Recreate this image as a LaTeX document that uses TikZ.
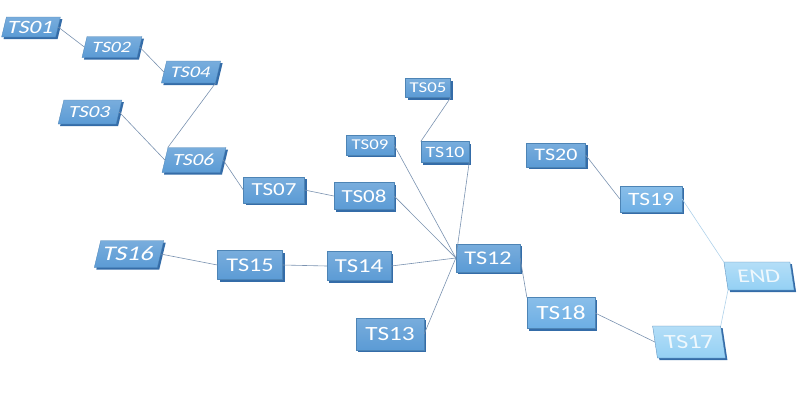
\documentclass[tikz,border=0pt]{standalone}
\usepackage{fontspec}
\newfontfamily\tsfont[FakeStretch=1.25]{Carlito}
\usetikzlibrary{shadows}
\definecolor{tsblue}{RGB}{91,155,213}
\definecolor{tsdark}{RGB}{52,108,168}
\definecolor{tsmid}{RGB}{108,174,228}
\definecolor{tslight}{RGB}{148,208,244}
\definecolor{tsline}{RGB}{122,146,176}
\definecolor{tsfaint}{RGB}{176,210,234}
\begin{document}
\begin{tikzpicture}[x=1pt, y=-1pt, line join=round, line cap=round,
	ts/.style={rectangle, inner sep=0pt, text=white, top color=tsblue!82!white, bottom color=tsblue,
		draw=tsblue!85!black, line width=0.3pt, font=\tsfont\fontsize{#1}{#1}\selectfont,
		general shadow={fill=tsdark, shadow xshift=2pt, shadow yshift=-2pt}},
	tsit/.style={ts=#1, xslant=0.24},
	tsmd/.style={ts=#1, top color=tsmid!80!white, bottom color=tsmid},
	tslt/.style={ts=#1, top color=tslight!70!white, bottom color=tslight, text=white!85!tslight, xslant=-0.15},
	link/.style={draw=tsline, line width=0.6pt}]
	\useasboundingbox (0,0) rectangle (800,407);
	% left branch
	\node[tsit=18.8, minimum width=54, minimum height=20] (ts01) at (31,27) {TS01};
	\node[tsit=15.8, minimum width=55, minimum height=21] (ts02) at (112,47) {TS02};
	\node[tsit=16.2, minimum width=54, minimum height=22] (ts04) at (191,72) {TS04};
	\node[tsit=17, minimum width=58, minimum height=24] (ts03) at (90,112) {TS03};
	\node[tsit=17, minimum width=58, minimum height=25] (ts06) at (194,160) {TS06};
	\node[ts=18.4, minimum width=61, minimum height=26] (ts07) at (274,190) {TS07};
	\node[ts=18.4, minimum width=60, minimum height=27] (ts08) at (364,196) {TS08};
	\node[ts=15, minimum width=48, minimum height=20] (ts09) at (370,145) {TS09};
	\node[ts=15, minimum width=45, minimum height=19] (ts05) at (428,88) {TS05};
	\node[ts=15.8, minimum width=48, minimum height=21] (ts10) at (445,152) {TS10};
	\node[ts=19.4, minimum width=64, minimum height=28] (ts12) at (488,258) {TS12};
	\node[ts=20.2, minimum width=68, minimum height=32] (ts13) at (390,334) {TS13};
	\node[ts=19.8, minimum width=64, minimum height=29] (ts14) at (359,266) {TS14};
	\node[ts=19.4, minimum width=65, minimum height=29] (ts15) at (250,265) {TS15};
	\node[tsit=20.8, minimum width=63, minimum height=27] (ts16) at (129,254) {TS16};
	% right branch
	\node[ts=17.6, minimum width=59, minimum height=24] (ts20) at (556,155) {TS20};
	\node[tsmd=18.8, minimum width=62, minimum height=26] (ts19) at (651,199) {TS19};
	\node[tsmd=20.2, minimum width=68, minimum height=31] (ts18) at (561,313) {TS18};
	\node[tslt=20.2, minimum width=68, minimum height=32] (ts17) at (689,342) {TS17};
	\node[tslt=19.4, minimum width=66, minimum height=28] (tsend) at (759,276) {END};
	% links
	\draw[link] (ts01.east) -- (ts02.west);
	\draw[link] (ts02.east) -- (ts04.west);
	\draw[link] (ts04.south east) -- (ts06.north west);
	\draw[link] (ts03.east) -- (ts06.west);
	\draw[link] (ts06.east) -- (ts07.west);
	\draw[link] (ts07.east) -- (ts08.west);
	\draw[link] (ts05.south east) -- (ts10.north west);
	\foreach \n in {ts08,ts09,ts14,ts13}{\draw[link] (\n.east) -- (ts12.west);}
	\draw[link] (ts10.south east) -- (ts12.west);
	\draw[link] (ts16.east) -- (ts15.west);
	\draw[link] (ts15.east) -- (ts14.west);
	\draw[link] (ts12.east) -- (ts18.north west);
	\draw[link] (ts18.east) -- (ts17.west);
	\draw[link] (ts20.east) -- (ts19.west);
	\draw[link, draw=tsfaint] (ts19.east) -- (tsend.north west);
	\draw[link, draw=tsfaint] (ts17.north east) -- (tsend.south west);
\end{tikzpicture}
\end{document}
